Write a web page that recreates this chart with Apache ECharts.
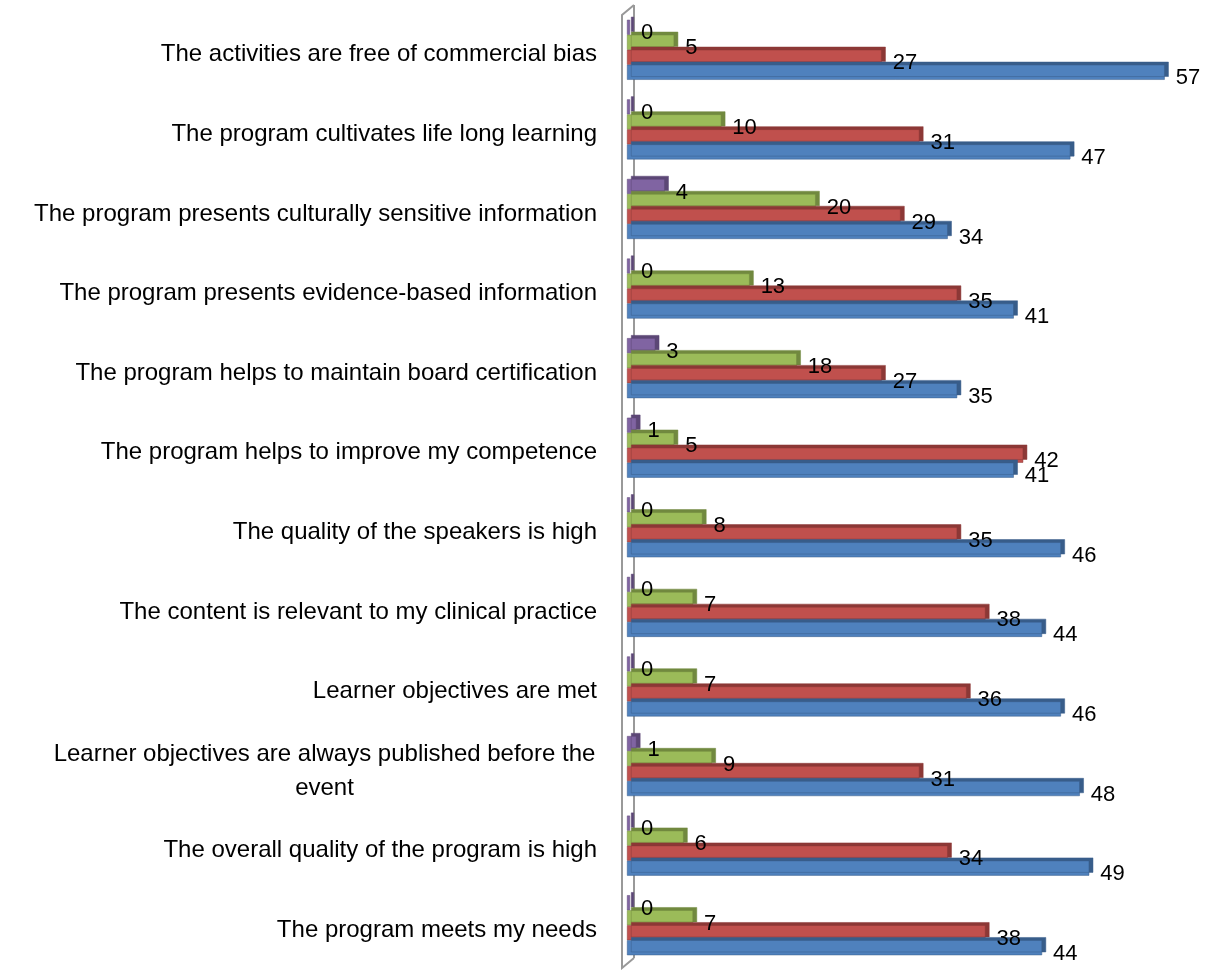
<!DOCTYPE html>
<html>
<head>
<meta charset="utf-8">
<script src="https://cdn.jsdelivr.net/npm/echarts@6/dist/echarts.min.js"></script>
<style>
html,body{margin:0;padding:0;background:#fff;}
#chart{width:1211px;height:970px;}
</style>
</head>
<body>
<div id="chart"></div>
<script>
// Categories listed bottom to top
const categories = [
  "The program meets my needs",
  "The overall quality of the program is high",
  "Learner objectives are always published before the event",
  "Learner objectives are met",
  "The content is relevant to my clinical practice",
  "The quality of the speakers is high",
  "The program helps to improve my competence",
  "The program helps to maintain board certification",
  "The program presents evidence-based information",
  "The program presents culturally sensitive information",
  "The program cultivates life long learning",
  "The activities are free of commercial bias"
];
const blueValues   = [44, 49, 48, 46, 44, 46, 41, 35, 41, 34, 47, 57];
const redValues    = [38, 34, 31, 36, 38, 35, 42, 27, 35, 29, 31, 27];
const greenValues  = [7, 6, 9, 7, 7, 8, 5, 18, 13, 20, 10, 5];
const purpleValues = [0, 0, 1, 0, 0, 0, 1, 3, 0, 4, 0, 0];

const FONT = "'Liberation Sans', Arial, sans-serif";
const chart = echarts.init(document.getElementById('chart'));

function mk(name, data, color, edge, minH) {
  return {
    name: name,
    type: 'bar',
    data: data,
    barWidth: 15,
    barGap: '0%',
    barMinHeight: minH || 0,
    itemStyle: {
      color: color,
      borderColor: edge,
      borderWidth: 0.5,
      shadowColor: edge,
      shadowOffsetX: 4,
      shadowOffsetY: -3,
      shadowBlur: 0
    },
    label: {
      show: true,
      position: 'right',
      distance: 11,
      offset: [0, 6],
      color: '#000',
      fontSize: 22,
      fontFamily: FONT
    }
  };
}

const GRID = { left: 627, right: 18, top: 10, bottom: 5 };

chart.setOption({
  animation: false,
  backgroundColor: '#fff',
  grid: Object.assign({ containLabel: false }, GRID),
  xAxis: {
    type: 'value', min: 0, max: 60, interval: 10,
    axisLine: { show: false }, axisTick: { show: false },
    axisLabel: { show: false }, splitLine: { show: false }
  },
  yAxis: {
    type: 'category',
    data: categories,
    axisLine: { show: false },
    axisTick: { show: false },
    axisLabel: {
      margin: 30,
      color: '#000',
      fontSize: 24,
      fontFamily: FONT,
      padding: [10, 0, 0, 0],
      formatter: function (v) {
        if (v.indexOf('before the event') >= 0) {
          return '{c|Learner objectives are always published before the}\n{c|event}';
        }
        return v;
      },
      rich: { c: { width: 545, align: 'center', fontSize: 24, fontFamily: FONT, color: '#000', lineHeight: 34 } }
    }
  },
  series: [
    mk('Purple', purpleValues, '#8064A2', '#5C4776', 3),
    mk('Green', greenValues, '#9BBB59', '#71893F'),
    mk('Red', redValues, '#C0504D', '#8C3836'),
    mk('Blue', blueValues, '#4F81BD', '#385D8A')
  ]
});

// 3D side wall drawn along the zero line of the value axis (behind the bars)
const x0 = chart.convertToPixel({ xAxisIndex: 0 }, 0);
const yTop = GRID.top;
const yBot = 970 - GRID.bottom;
const wallStyle = { stroke: '#999999', lineWidth: 2, fill: null };
chart.setOption({
  graphic: [
    { type: 'line', z: 0, silent: true, style: wallStyle,
      shape: { x1: x0 + 7, y1: yTop - 5, x2: x0 + 7, y2: yBot - 7 } },
    { type: 'polyline', z: 0, silent: true, style: wallStyle,
      shape: { points: [[x0 + 7, yTop - 5], [x0 - 5, yTop + 5], [x0 - 5, yBot + 3], [x0 + 7, yBot - 7]] } }
  ]
});
</script>
</body>
</html>
